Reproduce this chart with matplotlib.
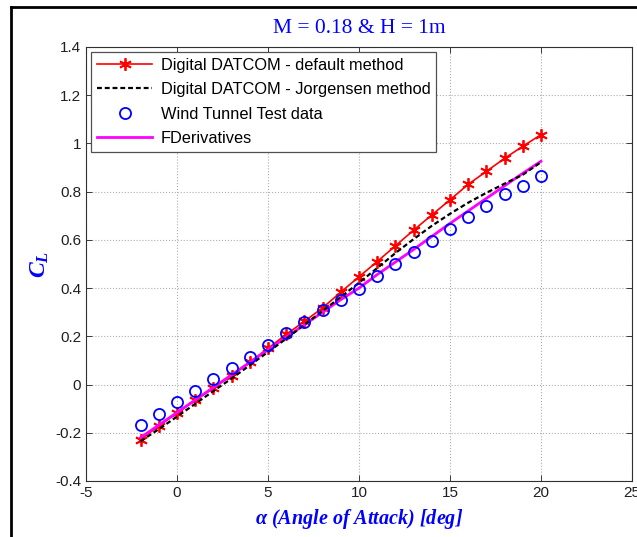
"""CL vs angle of attack, M = 0.18 & H = 1m."""

import matplotlib

matplotlib.use("Agg")
import matplotlib.pyplot as plt
from matplotlib.lines import Line2D
from matplotlib.ticker import FormatStrFormatter, MultipleLocator

alpha = [-2, -1, 0, 1, 2, 3, 4, 5, 6, 7, 8, 9, 10,
         11, 12, 13, 14, 15, 16, 17, 18, 19, 20]

cl_datcom_default = [-0.228, -0.172, -0.118, -0.066, -0.014, 0.037, 0.093,
                     0.150, 0.208, 0.262, 0.318, 0.383, 0.447, 0.510, 0.575,
                     0.640, 0.703, 0.766, 0.830, 0.884, 0.938, 0.988, 1.036]

cl_datcom_jorgensen = [-0.235, -0.185, -0.133, -0.080, -0.027, 0.025, 0.080,
                       0.135, 0.190, 0.248, 0.305, 0.363, 0.422, 0.483, 0.545,
                       0.603, 0.658, 0.708, 0.754, 0.795, 0.833, 0.870, 0.922]

cl_wind_tunnel = [-0.169, -0.122, -0.074, -0.025, 0.022, 0.067, 0.116,
                  0.164, 0.213, 0.261, 0.308, 0.351, 0.397, 0.449, 0.500,
                  0.550, 0.597, 0.647, 0.695, 0.740, 0.789, 0.823, 0.866]

cl_fderivatives = [-0.220, -0.168, -0.116, -0.064, -0.012, 0.040, 0.092,
                   0.144, 0.196, 0.248, 0.300, 0.352, 0.400, 0.456, 0.508,
                   0.560, 0.614, 0.668, 0.720, 0.772, 0.824, 0.876, 0.926]

SERIF = ["Liberation Serif", "DejaVu Serif"]
plt.rcParams["font.family"] = ["Liberation Sans", "DejaVu Sans"]
plt.rcParams["axes.unicode_minus"] = False
plt.rcParams["mathtext.fontset"] = "custom"
plt.rcParams["mathtext.rm"] = "Liberation Serif:bold:italic"
plt.rcParams["mathtext.it"] = "Liberation Serif:bold:italic"
plt.rcParams["mathtext.bf"] = "Liberation Serif:bold:italic"

fig = plt.figure(figsize=(6.37, 5.37), dpi=100)
ax = fig.add_axes([0.135, 0.1043, 0.857, 0.8082])

asterisk = (6, 2, 0)
ax.plot(alpha, cl_datcom_default, color="red", lw=1.2, marker=asterisk,
        ms=9, mew=1.3, label="Digital DATCOM - default method", zorder=3)
ax.plot(alpha, cl_datcom_jorgensen, color="black", lw=1.6, ls=(0, (2.2, 1.3)),
        label="Digital DATCOM - Jorgensen method", zorder=4)
ax.plot(alpha, cl_wind_tunnel, ls="none", marker="o", ms=8, mfc="none",
        mec="blue", mew=1.3, label="Wind Tunnel Test data", zorder=5)
ax.plot(alpha, cl_fderivatives, color="magenta", lw=2.0,
        label="FDerivatives", zorder=3)

ax.set_xlim(-5, 25)
ax.set_ylim(-0.4, 1.4)
ax.xaxis.set_major_locator(MultipleLocator(5))
ax.yaxis.set_major_locator(MultipleLocator(0.2))
ax.yaxis.set_major_formatter(FormatStrFormatter("%g"))
ax.tick_params(direction="in", top=True, right=True, labelsize=11,
               length=4, width=0.6, colors="#202020")
ax.grid(True, ls=":", color="#b0b0b0", lw=0.8)
for spine in ax.spines.values():
    spine.set_linewidth(0.8)
    spine.set_color("#303030")

ax.set_title("M = 0.18 & H = 1m", family=SERIF, color="blue",
             fontsize=15.5, pad=10)
ax.set_xlabel(r"$\alpha$ (Angle of Attack) [deg]", family=SERIF,
              color="blue", fontsize=14.5, fontweight="bold", style="italic",
              labelpad=5)
ax.set_ylabel(r"$C_L$", color="blue", fontsize=17, labelpad=3)

leg = ax.legend(loc="upper left", fontsize=11.8, handlelength=3.4,
                borderaxespad=0.3, borderpad=0.35, labelspacing=0.58,
                handletextpad=0.5, fancybox=False, framealpha=1)
leg.get_frame().set_edgecolor("#505050")
leg.get_frame().set_linewidth(0.9)

# window border seen on the left and top of the screenshot
fig.add_artist(Line2D([11 / 637, 11 / 637], [0, 1 - 7 / 537],
                      transform=fig.transFigure, color="black", lw=2))
fig.add_artist(Line2D([11 / 637, 1], [1 - 7 / 537, 1 - 7 / 537],
                      transform=fig.transFigure, color="black", lw=2))

fig.savefig("out.png", dpi=100)
